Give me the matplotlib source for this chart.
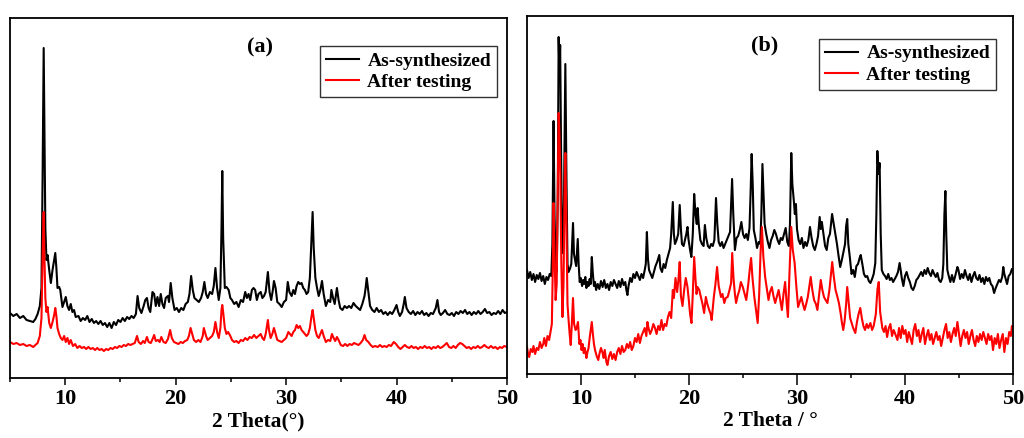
import numpy as np
import matplotlib.pyplot as plt
from matplotlib.ticker import MultipleLocator

plt.rcParams['font.family'] = 'Liberation Serif'
plt.rcParams['font.weight'] = 'bold'
plt.rcParams['xtick.direction'] = 'out'

a_synth = [
    [5.0, 65], [5.3, 62], [5.6, 64], [5.9, 60], [6.2, 62], [6.5, 58], [6.8, 57], [7.1, 56],
    [7.3, 59], [7.5, 64], [7.7, 72], [7.85, 90], [7.95, 200], [8.05, 330], [8.12, 250],
    [8.2, 150], [8.3, 118], [8.4, 123], [8.55, 108], [8.7, 95], [8.85, 108], [9.0, 118],
    [9.1, 125], [9.2, 110], [9.3, 90], [9.45, 91], [9.55, 88], [9.75, 71], [9.9, 76],
    [10.05, 81], [10.2, 72], [10.35, 68], [10.5, 74], [10.65, 66], [10.8, 68], [10.95, 61],
    [11.2, 62], [11.4, 57], [11.6, 60], [11.8, 58], [12.0, 62], [12.2, 56], [12.4, 59],
    [12.6, 55], [12.8, 57], [13.0, 54], [13.2, 57], [13.4, 53], [13.6, 55], [13.8, 51],
    [14.0, 55], [14.2, 50], [14.4, 56], [14.6, 53], [14.8, 58], [15.0, 56], [15.2, 60],
    [15.4, 57], [15.6, 61], [15.8, 59], [16.0, 62], [16.2, 60], [16.4, 64], [16.55, 82],
    [16.7, 70], [16.9, 65], [17.1, 72], [17.25, 78], [17.4, 80], [17.55, 70], [17.7, 66],
    [17.9, 86], [18.05, 84], [18.2, 72], [18.35, 81], [18.5, 72], [18.65, 84], [18.8, 74],
    [18.95, 70], [19.1, 80], [19.3, 82], [19.4, 76], [19.55, 95], [19.7, 80], [19.9, 68],
    [20.1, 70], [20.3, 66], [20.5, 70], [20.7, 68], [20.9, 74], [21.1, 76], [21.25, 84],
    [21.4, 102], [21.55, 88], [21.7, 80], [21.9, 78], [22.1, 76], [22.3, 80], [22.45, 86],
    [22.6, 96], [22.75, 84], [22.9, 80], [23.1, 86], [23.3, 84], [23.45, 92], [23.6, 110],
    [23.75, 90], [23.9, 78], [24.05, 90], [24.15, 150], [24.22, 207], [24.3, 140],
    [24.45, 90], [24.6, 91], [24.8, 88], [24.95, 80], [25.1, 78], [25.3, 74], [25.5, 76],
    [25.7, 71], [25.9, 78], [26.1, 76], [26.3, 86], [26.45, 80], [26.6, 84], [26.75, 78],
    [26.9, 88], [27.05, 90], [27.2, 88], [27.35, 78], [27.5, 84], [27.7, 86], [27.85, 80],
    [28.0, 82], [28.15, 86], [28.35, 106], [28.5, 86], [28.65, 78], [28.8, 88], [28.9, 97],
    [29.05, 90], [29.2, 76], [29.4, 74], [29.6, 71], [29.8, 76], [30.0, 78], [30.15, 96],
    [30.3, 86], [30.5, 82], [30.65, 88], [30.8, 84], [30.95, 92], [31.1, 96], [31.25, 94],
    [31.4, 95], [31.55, 90], [31.7, 88], [31.85, 84], [32.0, 86], [32.15, 100], [32.3, 140],
    [32.4, 166], [32.5, 130], [32.65, 100], [32.8, 90], [32.95, 82], [33.1, 88],
    [33.25, 97], [33.4, 84], [33.6, 72], [33.8, 78], [34.0, 76], [34.1, 88], [34.25, 80],
    [34.4, 74], [34.6, 90], [34.75, 78], [34.9, 70], [35.1, 68], [35.3, 72], [35.5, 70],
    [35.7, 72], [35.9, 70], [36.1, 75], [36.3, 72], [36.5, 70], [36.7, 68], [36.9, 74],
    [37.1, 82], [37.2, 90], [37.3, 100], [37.45, 86], [37.6, 72], [37.8, 68], [38.0, 66],
    [38.2, 70], [38.4, 66], [38.6, 68], [38.8, 64], [39.0, 66], [39.2, 63], [39.4, 66],
    [39.6, 64], [39.8, 68], [40.0, 73], [40.15, 66], [40.3, 62], [40.5, 66], [40.65, 74],
    [40.75, 81], [40.9, 70], [41.1, 66], [41.3, 64], [41.5, 67], [41.7, 63], [41.9, 66],
    [42.1, 64], [42.3, 67], [42.5, 63], [42.7, 65], [42.9, 62], [43.1, 65], [43.3, 64],
    [43.55, 70], [43.7, 78], [43.85, 66], [44.0, 63], [44.2, 65], [44.4, 68], [44.6, 64],
    [44.8, 63], [45.0, 65], [45.2, 62], [45.4, 66], [45.6, 64], [45.8, 67], [46.0, 65],
    [46.2, 68], [46.4, 64], [46.6, 66], [46.8, 63], [47.0, 66], [47.2, 64], [47.4, 67],
    [47.6, 64], [47.8, 66], [48.0, 69], [48.2, 65], [48.4, 66], [48.6, 63], [48.8, 65],
    [49.0, 64], [49.2, 67], [49.4, 64], [49.6, 68], [49.8, 65], [50.0, 66],
]

a_tested = [
    [5.0, 36], [5.3, 34], [5.6, 35], [5.9, 33], [6.2, 34], [6.5, 32], [6.8, 33], [7.1, 31],
    [7.3, 33], [7.5, 35], [7.7, 42], [7.85, 60], [7.95, 120], [8.05, 166], [8.12, 120],
    [8.2, 80], [8.3, 66], [8.4, 71], [8.55, 55], [8.7, 50], [8.85, 56], [9.0, 63],
    [9.1, 70], [9.2, 62], [9.3, 50], [9.45, 44], [9.6, 40], [9.75, 38], [9.9, 42],
    [10.05, 36], [10.2, 40], [10.35, 34], [10.5, 38], [10.7, 32], [10.9, 34], [11.1, 30],
    [11.3, 32], [11.5, 30], [11.7, 31], [11.9, 29], [12.1, 31], [12.3, 29], [12.5, 30],
    [12.7, 28], [12.9, 30], [13.1, 28], [13.3, 29], [13.5, 27], [13.7, 29], [13.9, 28],
    [14.1, 30], [14.3, 29], [14.5, 31], [14.7, 30], [14.9, 32], [15.1, 31], [15.3, 33],
    [15.5, 32], [15.7, 34], [15.9, 33], [16.1, 34], [16.3, 35], [16.5, 42], [16.65, 36],
    [16.85, 34], [17.05, 37], [17.2, 35], [17.4, 41], [17.55, 36], [17.75, 35], [17.95, 40],
    [18.05, 43], [18.2, 37], [18.4, 38], [18.55, 36], [18.7, 41], [18.9, 36], [19.1, 35],
    [19.3, 39], [19.5, 48], [19.65, 40], [19.85, 36], [20.05, 35], [20.25, 34], [20.45, 36],
    [20.65, 35], [20.85, 37], [21.05, 38], [21.2, 42], [21.35, 50], [21.5, 44], [21.65, 38],
    [21.85, 36], [22.05, 38], [22.25, 36], [22.45, 42], [22.55, 50], [22.75, 42], [22.9, 38],
    [23.1, 40], [23.3, 42], [23.45, 46], [23.6, 56], [23.75, 46], [23.9, 40], [24.05, 50],
    [24.15, 68], [24.22, 73], [24.3, 66], [24.45, 50], [24.6, 44], [24.75, 46], [24.95, 42],
    [25.1, 38], [25.3, 36], [25.5, 37], [25.7, 35], [25.9, 38], [26.1, 37], [26.3, 40],
    [26.5, 38], [26.7, 41], [26.9, 40], [27.1, 43], [27.3, 40], [27.5, 42], [27.7, 44],
    [27.85, 40], [28.0, 38], [28.15, 44], [28.35, 58], [28.45, 48], [28.6, 40], [28.75, 44],
    [28.9, 50], [29.05, 44], [29.2, 38], [29.4, 37], [29.6, 36], [29.8, 38], [30.0, 40],
    [30.2, 46], [30.35, 44], [30.5, 42], [30.65, 46], [30.8, 48], [30.95, 53], [31.1, 50],
    [31.25, 52], [31.4, 48], [31.55, 46], [31.7, 44], [31.85, 42], [32.0, 44], [32.15, 50],
    [32.3, 62], [32.4, 68], [32.5, 60], [32.65, 48], [32.8, 42], [32.95, 40], [33.1, 44],
    [33.25, 48], [33.4, 42], [33.6, 36], [33.8, 38], [34.0, 37], [34.15, 44], [34.3, 40],
    [34.45, 37], [34.6, 41], [34.75, 38], [34.95, 33], [35.15, 32], [35.35, 34], [35.55, 32],
    [35.75, 34], [35.95, 33], [36.15, 35], [36.35, 34], [36.55, 33], [36.75, 35], [36.95, 38],
    [37.1, 43], [37.25, 38], [37.45, 36], [37.65, 33], [37.85, 31], [38.05, 32], [38.3, 31],
    [38.5, 33], [38.7, 31], [38.9, 32], [39.1, 31], [39.3, 33], [39.5, 32], [39.75, 36],
    [39.95, 34], [40.15, 31], [40.35, 29], [40.55, 31], [40.75, 33], [40.95, 31], [41.15, 30],
    [41.35, 32], [41.55, 30], [41.75, 31], [41.95, 29], [42.15, 31], [42.35, 30], [42.55, 32],
    [42.75, 30], [42.95, 31], [43.15, 29], [43.35, 31], [43.55, 30], [43.75, 32], [43.95, 30],
    [44.15, 31], [44.35, 33], [44.55, 35], [44.75, 31], [44.95, 30], [45.15, 32], [45.35, 30],
    [45.55, 33], [45.75, 35], [45.95, 34], [46.15, 32], [46.35, 30], [46.55, 31], [46.75, 29],
    [46.95, 31], [47.15, 30], [47.35, 32], [47.55, 30], [47.75, 31], [47.95, 33], [48.15, 31],
    [48.35, 30], [48.55, 32], [48.75, 30], [48.95, 31], [49.15, 29], [49.35, 31], [49.55, 30],
    [49.75, 32], [50.0, 31],
]

b_synth = [
    [5.0, 104], [5.15, 96], [5.3, 102], [5.45, 94], [5.6, 100], [5.75, 92], [5.9, 99],
    [6.05, 95], [6.2, 101], [6.35, 93], [6.5, 98], [6.65, 90], [6.8, 97], [6.95, 94],
    [7.1, 100], [7.25, 98], [7.35, 130], [7.46, 253], [7.55, 160], [7.65, 110], [7.75, 102],
    [7.85, 180], [7.93, 337], [8.0, 300], [8.07, 329], [8.15, 230], [8.25, 130], [8.32, 121],
    [8.42, 170], [8.55, 310], [8.65, 200], [8.75, 110], [8.85, 102], [9.0, 106], [9.1, 110],
    [9.18, 130], [9.26, 151], [9.35, 120], [9.45, 114], [9.55, 108], [9.63, 122], [9.7, 135],
    [9.78, 110], [9.88, 92], [9.98, 96], [10.1, 88], [10.2, 94], [10.3, 90], [10.4, 97],
    [10.5, 86], [10.6, 92], [10.7, 88], [10.8, 95], [10.9, 90], [11.0, 117], [11.1, 100],
    [11.2, 88], [11.3, 92], [11.4, 84], [11.55, 90], [11.7, 85], [11.85, 93], [12.0, 87],
    [12.15, 94], [12.3, 86], [12.45, 90], [12.6, 84], [12.75, 92], [12.9, 88], [13.05, 94],
    [13.2, 90], [13.35, 86], [13.5, 93], [13.65, 87], [13.8, 95], [13.95, 89], [14.1, 92],
    [14.2, 84], [14.3, 79], [14.4, 88], [14.55, 96], [14.7, 92], [14.85, 100], [15.0, 96],
    [15.15, 102], [15.3, 98], [15.45, 94], [15.6, 100], [15.75, 96], [15.9, 104], [16.0, 110],
    [16.1, 142], [16.2, 115], [16.3, 104], [16.45, 100], [16.6, 96], [16.75, 102], [16.9, 108],
    [17.05, 112], [17.25, 119], [17.35, 106], [17.5, 102], [17.65, 110], [17.8, 106],
    [17.95, 114], [18.1, 120], [18.25, 126], [18.35, 140], [18.5, 172], [18.6, 140],
    [18.7, 130], [18.85, 134], [19.0, 140], [19.14, 169], [19.25, 145], [19.35, 130],
    [19.5, 128], [19.62, 134], [19.75, 140], [19.86, 147], [19.95, 135], [20.1, 124],
    [20.22, 117], [20.35, 140], [20.48, 180], [20.6, 160], [20.72, 150], [20.8, 166],
    [20.9, 150], [21.05, 134], [21.2, 130], [21.35, 128], [21.47, 149], [21.6, 136],
    [21.75, 128], [21.9, 126], [22.05, 130], [22.2, 128], [22.35, 134], [22.5, 176],
    [22.62, 150], [22.75, 132], [22.9, 128], [23.05, 132], [23.2, 126], [23.35, 130],
    [23.5, 134], [23.65, 138], [23.8, 142], [23.99, 195], [24.1, 160], [24.25, 124],
    [24.4, 136], [24.55, 138], [24.7, 144], [24.85, 152], [25.0, 140], [25.15, 136],
    [25.3, 140], [25.45, 134], [25.6, 146], [25.7, 180], [25.8, 220], [25.9, 190], [26.0, 144],
    [26.15, 136], [26.3, 126], [26.45, 132], [26.6, 130], [26.7, 160], [26.8, 210],
    [26.9, 180], [27.0, 150], [27.15, 140], [27.3, 132], [27.45, 126], [27.6, 134],
    [27.75, 138], [27.9, 144], [28.05, 140], [28.2, 134], [28.35, 130], [28.5, 136],
    [28.65, 134], [28.8, 140], [28.95, 146], [29.1, 132], [29.25, 128], [29.35, 150],
    [29.47, 221], [29.57, 190], [29.7, 174], [29.8, 160], [29.9, 170], [30.0, 145],
    [30.15, 134], [30.3, 130], [30.45, 136], [30.6, 126], [30.75, 132], [30.9, 128],
    [31.05, 134], [31.2, 147], [31.35, 136], [31.5, 128], [31.65, 124], [31.8, 130],
    [31.95, 138], [32.1, 157], [32.2, 145], [32.3, 152], [32.45, 140], [32.6, 128],
    [32.75, 124], [32.9, 136], [33.05, 140], [33.25, 160], [33.4, 150], [33.55, 140],
    [33.7, 130], [33.85, 118], [34.0, 107], [34.15, 114], [34.3, 122], [34.45, 130],
    [34.55, 148], [34.65, 155], [34.75, 130], [34.9, 116], [35.05, 100], [35.2, 104],
    [35.35, 97], [35.5, 108], [35.65, 110], [35.8, 116], [35.9, 119], [36.05, 110],
    [36.2, 100], [36.35, 97], [36.5, 98], [36.65, 93], [36.8, 91], [36.95, 95], [37.1, 100],
    [37.25, 111], [37.35, 160], [37.44, 223], [37.55, 200], [37.65, 211], [37.75, 140],
    [37.85, 104], [38.0, 100], [38.15, 98], [38.3, 95], [38.45, 100], [38.6, 94], [38.75, 96],
    [38.9, 92], [39.05, 95], [39.2, 98], [39.35, 102], [39.5, 111], [39.6, 104], [39.7, 96],
    [39.85, 88], [40.0, 98], [40.15, 102], [40.3, 96], [40.45, 92], [40.6, 86], [40.75, 84],
    [40.9, 88], [41.05, 94], [41.2, 96], [41.35, 99], [41.5, 102], [41.65, 98], [41.8, 104],
    [41.95, 100], [42.1, 106], [42.25, 101], [42.4, 98], [42.55, 104], [42.7, 100],
    [42.85, 97], [43.0, 101], [43.15, 94], [43.3, 92], [43.45, 96], [43.55, 110], [43.65, 160],
    [43.74, 183], [43.82, 140], [43.92, 104], [44.05, 98], [44.2, 92], [44.35, 99], [44.5, 92],
    [44.65, 98], [44.85, 107], [44.95, 104], [45.1, 95], [45.25, 100], [45.4, 96],
    [45.55, 104], [45.7, 98], [45.85, 94], [46.0, 100], [46.15, 92], [46.3, 98], [46.45, 102],
    [46.6, 96], [46.75, 94], [46.9, 99], [47.05, 92], [47.2, 96], [47.35, 90], [47.5, 97],
    [47.65, 93], [47.8, 96], [47.95, 90], [48.1, 88], [48.25, 81], [48.4, 86], [48.55, 90],
    [48.7, 94], [48.85, 92], [49.0, 97], [49.1, 107], [49.2, 100], [49.3, 96], [49.45, 90],
    [49.6, 98], [49.75, 100], [49.9, 105], [50.0, 104],
]

b_tested = [
    [5.0, 27], [5.1, 20], [5.2, 17], [5.35, 25], [5.5, 22], [5.6, 28], [5.75, 20], [5.9, 26],
    [6.05, 24], [6.2, 32], [6.35, 26], [6.5, 30], [6.6, 36], [6.75, 28], [6.9, 38],
    [7.05, 34], [7.2, 44], [7.3, 50], [7.38, 100], [7.46, 171], [7.55, 120], [7.65, 74],
    [7.75, 90], [7.85, 180], [7.93, 261], [8.0, 240], [8.08, 200], [8.18, 110], [8.28, 57],
    [8.38, 90], [8.48, 180], [8.55, 221], [8.65, 150], [8.75, 70], [8.85, 54], [8.95, 40],
    [9.05, 29], [9.15, 50], [9.26, 76], [9.36, 50], [9.5, 44], [9.6, 46], [9.72, 52],
    [9.85, 30], [9.95, 34], [10.05, 24], [10.15, 30], [10.25, 21], [10.35, 26], [10.5, 16],
    [10.6, 22], [10.7, 26], [10.8, 36], [10.9, 44], [11.0, 52], [11.1, 40], [11.2, 30],
    [11.3, 24], [11.45, 18], [11.6, 14], [11.7, 20], [11.85, 26], [12.0, 21], [12.1, 16],
    [12.2, 24], [12.35, 12], [12.45, 9], [12.6, 18], [12.75, 22], [12.9, 15], [13.05, 20],
    [13.2, 14], [13.35, 22], [13.5, 26], [13.65, 20], [13.8, 28], [13.95, 22], [14.1, 24],
    [14.25, 30], [14.4, 26], [14.55, 32], [14.7, 24], [14.85, 28], [15.0, 36], [15.15, 32],
    [15.3, 40], [15.45, 31], [15.6, 38], [15.75, 42], [15.9, 46], [16.05, 38], [16.15, 52],
    [16.25, 46], [16.4, 40], [16.55, 44], [16.7, 50], [16.85, 46], [17.0, 40], [17.15, 48],
    [17.3, 44], [17.45, 54], [17.6, 44], [17.75, 50], [17.9, 48], [18.05, 57], [18.2, 62],
    [18.35, 56], [18.5, 84], [18.6, 76], [18.75, 96], [18.9, 82], [19.02, 94], [19.14, 112],
    [19.25, 78], [19.4, 68], [19.55, 84], [19.7, 96], [19.86, 87], [20.0, 72], [20.1, 60],
    [20.23, 51], [20.35, 80], [20.48, 117], [20.6, 95], [20.7, 80], [20.79, 87], [20.95, 84],
    [21.1, 77], [21.25, 70], [21.4, 61], [21.56, 77], [21.7, 70], [21.87, 64], [22.0, 60],
    [22.1, 54], [22.2, 66], [22.3, 77], [22.45, 90], [22.6, 107], [22.75, 88], [22.96, 77],
    [23.1, 80], [23.27, 71], [23.4, 76], [23.58, 77], [23.75, 84], [23.9, 91], [24.0, 121],
    [24.12, 96], [24.25, 80], [24.36, 71], [24.5, 78], [24.67, 84], [24.8, 92], [24.98, 87],
    [25.15, 80], [25.3, 74], [25.4, 82], [25.5, 91], [25.62, 104], [25.75, 116], [25.88, 96],
    [26.05, 77], [26.2, 64], [26.36, 51], [26.5, 80], [26.62, 120], [26.75, 147],
    [26.88, 118], [27.05, 97], [27.2, 86], [27.36, 74], [27.5, 82], [27.67, 87], [27.82, 78],
    [27.98, 71], [28.15, 78], [28.3, 84], [28.45, 74], [28.6, 64], [28.75, 80], [28.9, 92],
    [29.05, 70], [29.16, 57], [29.3, 100], [29.47, 147], [29.6, 125], [29.78, 111],
    [29.95, 86], [30.1, 67], [30.25, 72], [30.4, 77], [30.55, 70], [30.7, 64], [30.85, 70],
    [31.0, 77], [31.15, 88], [31.27, 97], [31.42, 84], [31.58, 74], [31.75, 70], [31.89, 64],
    [32.05, 80], [32.2, 94], [32.35, 84], [32.5, 77], [32.65, 74], [32.82, 71], [33.0, 84],
    [33.15, 100], [33.26, 112], [33.4, 98], [33.57, 84], [33.72, 78], [33.88, 71],
    [34.05, 60], [34.15, 52], [34.28, 44], [34.4, 52], [34.55, 70], [34.65, 87], [34.78, 72],
    [34.92, 56], [35.06, 51], [35.2, 46], [35.4, 41], [35.55, 52], [35.7, 60], [35.86, 66],
    [36.0, 56], [36.15, 48], [36.3, 44], [36.45, 50], [36.6, 46], [36.8, 51], [36.95, 44],
    [37.1, 48], [37.3, 60], [37.45, 85], [37.57, 92], [37.7, 62], [37.9, 46], [38.05, 42],
    [38.2, 48], [38.34, 37], [38.5, 46], [38.65, 50], [38.8, 38], [38.95, 44], [39.1, 40],
    [39.3, 34], [39.45, 46], [39.6, 36], [39.75, 48], [39.9, 40], [40.05, 44], [40.2, 32],
    [40.35, 42], [40.5, 36], [40.65, 30], [40.8, 44], [40.95, 50], [41.1, 38], [41.25, 44],
    [41.4, 32], [41.55, 40], [41.7, 46], [41.85, 30], [42.0, 38], [42.15, 44], [42.3, 34],
    [42.45, 40], [42.6, 30], [42.75, 36], [42.9, 42], [43.05, 34], [43.2, 38], [43.35, 28],
    [43.5, 36], [43.65, 44], [43.8, 50], [43.95, 36], [44.1, 42], [44.25, 32], [44.4, 40],
    [44.55, 46], [44.7, 38], [44.85, 52], [45.0, 40], [45.15, 28], [45.3, 38], [45.45, 44],
    [45.6, 36], [45.75, 42], [45.9, 30], [46.05, 38], [46.2, 44], [46.35, 34], [46.5, 28],
    [46.65, 38], [46.8, 32], [46.95, 40], [47.1, 34], [47.25, 42], [47.4, 36], [47.55, 30],
    [47.7, 40], [47.85, 34], [48.0, 38], [48.15, 24], [48.3, 36], [48.45, 30], [48.6, 40],
    [48.75, 26], [48.9, 34], [49.05, 40], [49.2, 22], [49.35, 36], [49.5, 30], [49.65, 42],
    [49.8, 38], [49.9, 48], [50.0, 46],
]

labels = ['As-synthesized', 'After testing']
line_colors = ['black', 'red']
tags = ['(a)', '(b)']
xlabels = ['2 Theta(\u00b0)', '2 Theta / \u00b0']

fig = plt.figure(figsize=(10.24, 4.38), dpi=100)

panels = [
    dict(rect=[10/1024, 1-378/438, 497/1024, 360/438], data=[a_synth, a_tested], ymax=360,
         tick_len=5, pad=3.0, lpad=1.5, leg=(0.98, 0.922), tag=(0.503, 0.917)),
    dict(rect=[527/1024, 1-374/438, 486/1024, 358/438], data=[b_synth, b_tested], ymax=358,
         tick_len=8, pad=2.5, lpad=1.5, leg=(0.965, 0.936), tag=(0.488, 0.919)),
]

for i, p in enumerate(panels):
    ax = fig.add_axes(p['rect'])
    for series, lab, c in zip(p['data'], labels, line_colors):
        arr = np.array(series).T
        ax.plot(arr[0], arr[1], color=c, lw=1.5, label=lab)
    ax.set_xlim(5, 50)
    ax.set_ylim(0, p['ymax'])
    ax.set_yticks([])
    ax.xaxis.set_major_locator(MultipleLocator(10))
    ax.xaxis.set_minor_locator(MultipleLocator(5))
    ax.tick_params(axis='x', which='major', length=p['tick_len'], width=1.1,
                   labelsize=16, pad=p['pad'])
    ax.tick_params(axis='x', which='minor', length=3, width=1.1)
    for s in ax.spines.values():
        s.set_linewidth(1.3)
    ax.set_xlabel(xlabels[i], fontsize=15.5, fontweight='bold', labelpad=p['lpad'])
    ax.text(p['tag'][0], p['tag'][1], tags[i], transform=ax.transAxes,
            ha='center', va='center', fontsize=16, fontweight='bold')
    leg = ax.legend(loc='upper right', bbox_to_anchor=p['leg'], borderaxespad=0,
                    fancybox=False, edgecolor='#333333', framealpha=1,
                    prop={'size': 14, 'weight': 'bold'}, handlelength=1.7,
                    handletextpad=0.45, labelspacing=0.2, borderpad=0.3)
    leg.get_frame().set_linewidth(1.0)

fig.savefig('out.png', dpi=100)
